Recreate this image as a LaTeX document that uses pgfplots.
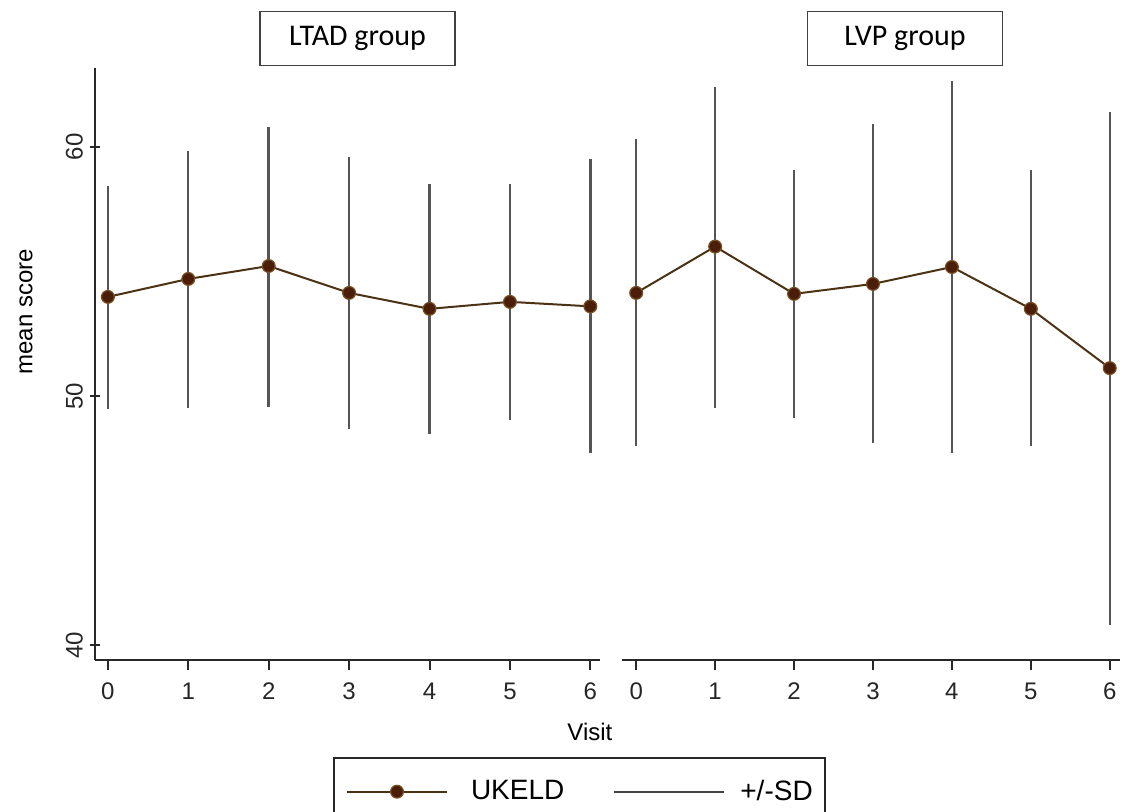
\documentclass[border=0pt]{standalone}
\usepackage{pgfplots}
\pgfplotsset{compat=1.18}
\usepackage{pgfplotstable}
\usepackage{fontspec}
\setmainfont{Liberation Sans}
\newfontfamily\calibri{Carlito}

\definecolor{meanline}{RGB}{75,50,20}
\definecolor{markfill}{RGB}{75,30,10}
\definecolor{markdraw}{RGB}{120,80,35}
\definecolor{sdcol}{RGB}{85,85,85}
\definecolor{axcol}{RGB}{40,40,40}

\pgfplotstableread{
visit mean
0 53.98
1 54.70
2 55.22
3 54.14
4 53.50
5 53.78
6 53.60
}\ltadmean

\pgfplotstableread{
visit sd
0 58.43
0 49.48
0 nan
1 59.84
1 49.52
1 nan
2 60.80
2 49.56
2 nan
3 59.60
3 48.67
3 nan
4 58.50
4 48.47
4 nan
5 58.50
5 49.04
5 nan
6 59.50
6 47.70
}\ltadsd

\pgfplotstableread{
visit mean
0 54.14
1 56.00
2 54.10
3 54.50
4 55.18
5 53.50
6 51.12
}\lvpmean

\pgfplotstableread{
visit sd
0 60.30
0 48.00
0 nan
1 62.40
1 49.50
1 nan
2 59.08
2 49.10
2 nan
3 60.92
3 48.10
3 nan
4 62.65
4 47.70
4 nan
5 59.08
5 48.00
5 nan
6 61.40
6 40.80
}\lvpsd

\pgfplotsset{
  panel/.style={
    scale only axis,
    height=296pt,
    ymin=39.4, ymax=63.17,
    axis x line=bottom,
    every outer x axis line/.append style={-},
    every outer y axis line/.append style={-},
    axis line style={-, axcol, line width=1pt},
    tick align=outside,
    major tick length=5pt,
    tick style={axcol, line width=1pt},
    xtick={0,1,2,3,4,5,6},
    tick label style={font=\fontsize{12}{14}\selectfont, text=black!85},
    xticklabel style={yshift=-3pt},
    /pgf/number format/assume math mode=true,
    unbounded coords=jump,
    clip=false,
    every axis title shift=0pt,
    title style={draw=black!75, line width=0.7pt, font=\calibri\fontsize{15}{18}\selectfont,
      minimum width=97.5pt, minimum height=27pt, inner sep=0pt, anchor=south, yshift=1pt},
  },
  sdplot/.style={sdcol, line width=1.2pt, no marks,
    legend image code/.code={\draw[sdcol!80!black, line width=1pt] (0pt,0pt) -- (55pt,0pt);}},
  meanplot/.style={meanline, line width=1pt, mark=*, mark size=3.2pt,
    mark options={fill=markfill, draw=markdraw, line width=0.6pt},
    legend image code/.code={\draw[mark repeat=2, mark phase=2] plot coordinates {(0pt,0pt) (25pt,0pt) (50pt,0pt)};}},
}

\begin{document}
\begin{tikzpicture}
\useasboundingbox (0,0) rectangle (562.5pt,405.5pt);

\begin{axis}[panel,
  at={(47.5pt,75.5pt)}, anchor=south west,
  width=252.5pt,
  xmin=-0.16, xmax=6.12,
  axis y line=left,
  y axis line style={-},
  ytick={40,50,60},
  yticklabel style={rotate=90, anchor=south},
  ylabel={mean score},
  ylabel style={font=\fontsize{12}{14}\selectfont, at={(axis description cs:-0.1366,0.588)}, anchor=center, rotate=0},
  xlabel={Visit},
  xlabel style={font=\fontsize{12}{14}\selectfont, at={(axis description cs:0.980,-0.1216)}, anchor=center},
  title={LTAD group},
  title style={at={(axis description cs:0.5198,1)}},
  reverse legend,
  legend columns=2,
  legend style={at={(axis description cs:0.4713,-0.1639)}, anchor=north west,
    draw=black!85, line width=1pt, inner xsep=6pt, inner ysep=9pt,
    font=\fontsize{14}{16}\selectfont,
    nodes={inner xsep=0pt},
    /tikz/column 2/.style={column sep=24.5pt},
    /tikz/column 1/.style={column sep=11.5pt},
    /tikz/column 3/.style={column sep=7.5pt}},
]
\addplot[sdplot] table[x=visit, y=sd] {\ltadsd};
\addlegendentry{+/-SD}
\addplot[meanplot] table[x=visit, y=mean] {\ltadmean};
\addlegendentry{UKELD}
\end{axis}

\begin{axis}[panel,
  at={(311pt,75.5pt)}, anchor=south west,
  width=249pt,
  xmin=-0.18, xmax=6.13,
  axis y line=none,
  ytick=\empty,
  title={LVP group},
  title style={at={(axis description cs:0.5683,1)}},
]
\addplot[sdplot] table[x=visit, y=sd] {\lvpsd};
\addplot[meanplot] table[x=visit, y=mean] {\lvpmean};
\end{axis}
\end{tikzpicture}
\end{document}
